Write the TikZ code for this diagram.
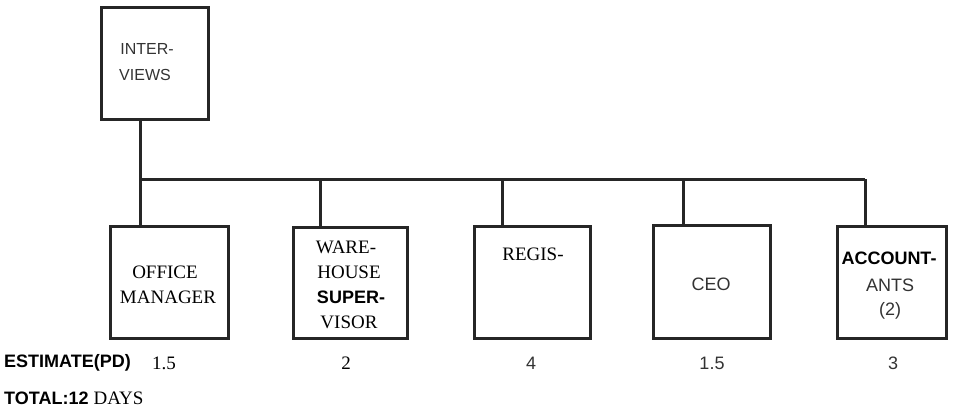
\documentclass[tikz,border=0pt]{standalone}
\usepackage{fontspec}
\setmainfont{Liberation Serif}
\setsansfont{Liberation Sans}
\begin{document}
\begin{tikzpicture}[x=1pt,y=-1pt,
  box/.style={draw=black!85,line width=3pt,inner sep=0pt},
  wire/.style={draw=black!85,line width=3pt},
  sf/.style={font=\sffamily\fontsize{18}{18}\selectfont,inner sep=0pt,text=black!80},
  sfs/.style={font=\sffamily\fontsize{16}{16}\selectfont,inner sep=0pt,text=black!80},
  sfb/.style={font=\sffamily\bfseries\fontsize{18}{18}\selectfont,inner sep=0pt},
  rm/.style={font=\rmfamily\fontsize{19}{19}\selectfont,inner sep=0pt},
  rmnum/.style={font=\rmfamily\fontsize{19}{19}\selectfont,inner sep=0pt},
  sfnum/.style={font=\sffamily\fontsize{18}{18}\selectfont,inner sep=0pt,text=black!80}]
\useasboundingbox[fill=white] (0,0) rectangle (956,408);
% boxes
\node[box,minimum width=107pt,minimum height=112pt,anchor=north west] (iv) at (100,6) {};
\node[box,minimum width=118pt,minimum height=112pt,anchor=north west] (b1) at (109,225) {};
\node[box,minimum width=114pt,minimum height=111pt,anchor=north west] (b2) at (292,226) {};
\node[box,minimum width=116pt,minimum height=112pt,anchor=north west] (b3) at (473,225) {};
\node[box,minimum width=117pt,minimum height=113pt,anchor=north west] (b4) at (652,224) {};
\node[box,minimum width=109pt,minimum height=112pt,anchor=north west] (b5) at (836,225) {};
% junctions
\coordinate (j0) at (140,179);
\coordinate (j1) at (320,179);
\coordinate (j2) at (502,179);
\coordinate (j3) at (683,179);
\coordinate (j4) at (865,179);
\draw[wire] (iv.south -| j0) -- (j0) -- (j4);
\draw[wire] (j0) -- (b1.north -| j0);
\draw[wire] (j1) -- (b2.north -| j1);
\draw[wire] (j2) -- (b3.north -| j2);
\draw[wire] (j3) -- (b4.north -| j3);
\draw[wire] (j4) -- (b5.north -| j4);
% box texts
\node[sfs] (t0a) at (147,49) {INTER-};
\node[sfs] (t0b) at (145,75) {VIEWS};
\node[rm] (t1a) at (165,272) {OFFICE};
\node[rm] (t1b) at (168,297) {MANAGER};
\node[rm] (t2a) at (346,247) {WARE-};
\node[rm] (t2b) at (349,272) {HOUSE};
\node[sfb] (t2c) at (351,297) {SUPER-};
\node[rm] (t2d) at (349,322) {VISOR};
\node[rm] (t3a) at (533,254) {REGIS-};
\node[sf] (t4a) at (711,284) {CEO};
\node[sfb] (t5a) at (889,258) {ACCOUNT-};
\node[sf] (t5b) at (890,285) {ANTS};
\node[sf] (t5c) at (890,311) {(2)};
% estimates
\node[sfb,anchor=west] (est) at (4,363) {ESTIMATE(PD)};
\node[rmnum] (e1) at (164,363) {1.5};
\node[rmnum] (e2) at (346,363) {2};
\node[sfnum] (e3) at (531,363) {4};
\node[sfnum] (e4) at (712,363) {1.5};
\node[sfnum] (e5) at (893,363) {3};
\node[anchor=west,inner sep=0pt] (tot) at (4,398) {\sffamily\bfseries\fontsize{18}{18}\selectfont TOTAL:12 \rmfamily\mdseries\fontsize{19}{19}\selectfont DAYS};
\end{tikzpicture}
\end{document}
